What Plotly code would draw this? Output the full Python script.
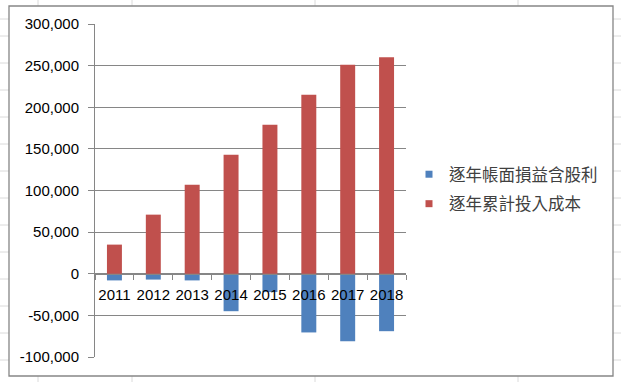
import plotly.graph_objects as go

years = ["2011", "2012", "2013", "2014", "2015", "2016", "2017", "2018"]
profit_loss = [-8000, -7000, -8000, -45000, -22000, -70500, -81000, -69000]
cum_cost = [35000, 71000, 107000, 143000, 179000, 215000, 251000, 260000]
series_names = ["逐年帳面損益含股利", "逐年累計投入成本"]
ytick_vals = [-100000, -50000, 0, 50000, 100000, 150000, 200000, 250000, 300000]
ytick_text = ["-100,000", "-50,000", "0", "50,000", "100,000", "150,000", "200,000", "250,000", "300,000"]

W, H = 621, 382
BLUE = "#4F81BD"
RED = "#C0504D"
GRID = "#868686"

def px_x(p):
    return p / W

def px_y(p):
    return 1 - p / H

y_dom = [px_y(357), px_y(24)]
y_range = [-100000, 300000]
zero_pos = y_dom[0] + (0 - y_range[0]) / (y_range[1] - y_range[0]) * (y_dom[1] - y_dom[0])

fig = go.Figure()
fig.add_trace(go.Bar(x=years, y=profit_loss, name=series_names[0], marker_color=BLUE,
                     marker_line_width=0, showlegend=False))
fig.add_trace(go.Bar(x=years, y=cum_cost, name=series_names[1], marker_color=RED,
                     marker_line_width=0, showlegend=False))
# legend entries with small square markers (Excel style)
fig.add_trace(go.Scatter(x=[None], y=[None], mode="markers", name=series_names[0],
                         marker=dict(symbol="square", size=7, color=BLUE), legendgroup="a"))
fig.add_trace(go.Scatter(x=[None], y=[None], mode="markers", name=series_names[1],
                         marker=dict(symbol="square", size=7, color=RED), legendgroup="b"))

shapes = []
# spreadsheet cell grid
for yy in [19, 36, 63, 90, 117, 144, 171, 198, 225, 252, 279, 306, 333, 360]:
    shapes.append(dict(type="line", xref="paper", yref="paper", x0=0, x1=1,
                       y0=px_y(yy), y1=px_y(yy), line=dict(color="#DADADA", width=1), layer="below"))
for xx in [38, 132, 315, 518]:
    shapes.append(dict(type="line", xref="paper", yref="paper", x0=px_x(xx), x1=px_x(xx),
                       y0=0, y1=1, line=dict(color="#DADADA", width=1), layer="below"))
# chart area
shapes.append(dict(type="rect", xref="paper", yref="paper", x0=px_x(9), x1=px_x(613),
                   y0=px_y(376), y1=px_y(6), fillcolor="white",
                   line=dict(color=GRID, width=1.3), layer="below"))

fig.update_layout(
    width=W, height=H, autosize=False,
    margin=dict(l=0, r=0, t=0, b=0, pad=0),
    paper_bgcolor="white", plot_bgcolor="rgba(0,0,0,0)",
    barmode="relative", bargap=0.615,
    font=dict(family="Liberation Sans, Arial, sans-serif", size=15, color="#000000"),
    shapes=shapes,
    xaxis=dict(type="category", domain=[px_x(95), px_x(406)], anchor="free", position=zero_pos,
               showline=True, linecolor=GRID, linewidth=1, ticks="outside", tickson="boundaries",
               ticklen=5, tickcolor=GRID, showgrid=False, tickfont=dict(size=15),
               tickangle=0, ticklabelstandoff=7, automargin=False),
    yaxis=dict(domain=y_dom, range=y_range, tickvals=ytick_vals, ticktext=ytick_text,
               showline=True, linecolor=GRID, linewidth=1, ticks="outside", ticklen=6,
               tickcolor=GRID, showgrid=True, gridcolor=GRID, gridwidth=1,
               zeroline=True, zerolinecolor=GRID, zerolinewidth=1, ticklabelstandoff=6,
               automargin=False),
    legend=dict(x=px_x(409), y=px_y(157), xanchor="left", yanchor="top",
                bgcolor="rgba(0,0,0,0)", traceorder="grouped", tracegroupgap=5,
                font=dict(family="Noto Sans CJK TC", size=16.5, color="#404040"),
                itemwidth=30),
)

fig.write_html("out.html", config={"responsive": False},
               post_script="document.body.style.margin='0';document.body.style.overflow='hidden';")
